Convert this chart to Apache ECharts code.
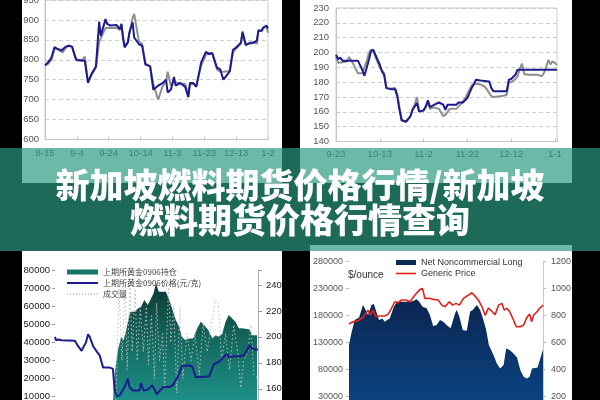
<!DOCTYPE html>
<html><head><meta charset="utf-8">
<script src="https://cdn.jsdelivr.net/npm/echarts@6/dist/echarts.min.js"></script>
<style>html,body{margin:0;padding:0;background:#000;}#c{width:600px;height:400px;}</style>
</head><body><div id="c"></div>
<script>
// ---------- Chart 1 (top-left) ----------
const c1Labels = ['8-15','9-4','9-24','10-14','11-3','11-23','12-13','1-2'];
const c1Days = [0,2,4,6,10,11,13,15,17,19,20,23,25,27,29,32,33,34,35,38,39,41,45,47,48,49,50,52,53,55,56,59,61,63,66,68,71,74,76,77,79,81,82,85,88,90,91,93,95,98,101,103,105,108,110,112,116,118,120,123,124,126,129,131,133,134,136,137,139,140];
const c1Navy = [786,794,805,832,822,820,833,835,833,805,799,799,797,742,763,784,780,896,860,902,890,886,887,877,890,852,831,843,869,894,856,839,835,788,784,725,735,742,750,718,725,757,735,742,732,706,742,742,732,793,820,814,817,780,776,750,771,825,831,843,869,837,843,843,848,873,873,881,886,879];
const c1Gray = [786,790,800,828,826,818,830,836,832,810,800,797,808,745,760,780,782,845,850,880,885,880,880,875,888,860,835,845,865,905,915,845,840,792,782,740,700,735,745,770,735,745,745,740,740,712,738,740,735,785,812,818,815,775,770,770,772,818,828,840,872,840,840,845,840,875,872,878,885,868];

// ---------- Chart 2 (top-right) ----------
const c2Labels = ['9-23','10-13','11-2','11-22','12-12','1-1'];
const c2NavyDays = [0,1,2,3,6,10,12,13,14,15,16,17,18,20,21,22,23,25,27,28,29,30,32,34,35,37,38,40,41,42,43,45,47,49,50,51,55,56,58,60,62,64,66,70,71,72,75,78,79,80,82,83,101];
const c2Navy = [198.5,195.6,196.5,194.5,194.5,194.5,188.4,184.3,189.5,195,200.8,201.9,198.5,191.8,187.3,185,176,175.3,175.3,170.4,161.4,154.2,153.5,156.9,161.4,165.9,160.3,160.9,163.6,167.7,163.2,164.8,166.3,164.8,161.4,164.8,164.8,166.3,166.3,169.3,176,181.6,181.2,180.5,176,173.8,173.8,173.8,181.6,182.1,185,188.4,188.4];
const c2GrayDays = [0,1,3,5,6,8,10,12,14,15,16,17,18,20,22,23,25,27,28,29,30,32,34,35,36,37,38,40,41,42,43,45,47,49,50,52,55,57,59,60,62,64,66,68,69,71,72,75,77,78,79,80,82,83,84,85,86,88,90,92,94,95,96,97,98,99,100,101];
const c2Gray = [197,193,193.5,194,197,192,186,186,194,199.5,202,201,197,190,186,176,175.5,176,172,163,155,153,157,162,165,170,160,161,163,166,162,163,162,157,158,162,162,165,169,172,178,179,178.5,177,175,170.5,170,170.5,171,171.5,180,180,182,184,189,192.5,185.5,185,185,185,184,186,190,195,192,194,193,191.5];

// ---------- Chart 3 (bottom-left) ----------
const c3Names = ['上期所黄金0906持仓','上期所黄金0906价格(元/克)','成交量'];
const c3OiX = [28.2,28.9,29.4,31,32.6,33.8,35.1,37,39.2,40.8,42.4,44,45.7,47.3,48.5,49.8,51.1,53,54.6,56.3,57.9,59.5,61.2,62.5,64.1,66.1,68,70.1,71.8,73.4,75.5,77.5,79.1,80.7,82.4,84,85.6,87.3,88.9,90.5,92.2,95.8,97.1,99.5];
const c3Oi = [0,15000,23000,36000,43300,41500,47000,57200,57200,59000,60000,63700,61000,64600,67400,73000,68300,68300,68300,63700,58100,52600,48900,43300,41500,42400,42400,48000,51700,49800,47000,42400,44200,43300,45000,51700,55400,53500,51700,48000,48000,47400,44200,44200];
const c3PriceX = [0,0.5,1.6,3.3,9.8,11.4,13.1,14.2,15.2,16.3,17.1,18.8,20.7,22,23.7,26.9,28.5,29.4,30.5,31.8,34.3,35.9,36.7,38.3,41.6,42.4,43.6,45.7,47.8,48.9,50.1,51.4,53.3,56.3,57.9,60.4,62.5,66.1,67.7,69.3,72.6,75.9,78.3,80.7,83.2,84.8,85.6,88.1,90.5,93,94.6,95.8,97.1,98.7,100];
const c3Price = [200,197.4,198,197.4,197,192.8,189.2,192.8,195.4,202,200,192.8,188.4,185.8,176.3,176.3,175.5,158.7,154.1,154.9,161.3,167.8,161.3,158.7,158.7,164.4,158.7,159.2,162.6,160,155.6,158.2,161.3,161.3,162.6,169,177.3,178.1,176.8,169,169,169.6,178.9,180.7,184.5,187.1,184.5,185,185,185.8,189.7,193.6,191,190.2,190.2];
const c3VolX = [30,31.5,33,34.5,35.5,37,38,39.5,40.5,42,43.5,45,46,47.5,49,50,51.5,53,54,56,57,58.5,60,61.5,63,65,67,69,71,73,75,77,79,80.5,82,84,86,88,90,91.5,93,95,96.5,98,100];
const c3Vol = [8000,70000,30000,72000,25000,72000,35000,70000,30000,60000,35000,60000,28000,55000,20000,62000,30000,45000,15000,72000,40000,60000,12000,60000,20000,45000,30000,45000,22000,50000,35000,50000,64000,62000,30000,45000,25000,50000,35000,15000,30000,35000,50000,22000,20000];

// ---------- Chart 4 (bottom-right) ----------
const c4Names = ['Net Noncommercial Long','Generic Price'];
const c4LongX = [0,1.2,2.9,5.2,7.2,8.6,9.8,11.6,12.8,14.1,15.5,17.2,18.4,19.7,21,23.1,24.8,27.1,29.3,31.4,33.1,34.8,36.2,37.9,40,41.7,43.4,45.2,46.9,48.6,50.3,52.4,53.4,54.7,55.5,56.9,58.6,60.7,62.4,63.8,65.9,67.6,69.3,70.7,72.1,74.5,76.2,77.9,79.7,81,82.8,84.8,86.6,88.3,90,91.7,93.1,94.3,97.2,98.6,100];
const c4Long = [124900,146600,171400,176400,199400,190000,180700,199400,201200,187000,171400,174500,168300,171400,174500,196300,205600,205600,205600,205600,206800,210000,205600,196300,193200,180700,160300,162200,171400,168300,162200,156000,152800,183900,190000,177700,152800,151600,187000,190000,199400,190000,171400,152800,124900,106300,90800,81500,87700,118700,115600,109400,101900,78400,66000,62900,66000,81500,83400,100100,116900];
const c4PriceX = [0,2.1,4.7,7.2,9.8,11,12.4,13.8,15.9,18.4,20.2,21.9,23.6,25.3,27.1,29.3,31.4,34,36.6,37.9,39.1,41.7,43.4,46,47.8,49.5,51.7,53.4,55.2,56.9,59,61.6,63.3,65,66.7,68.4,70.2,71.9,73.6,75.3,77.1,78.8,80,81.4,82.8,84.8,86.2,88.3,90,91.7,93.1,94.1,95.2,96.9,98.3,100];
const c4Price = [736,753,761,785,840,803,840,791,796,796,810,853,902,895,915,915,902,952,994,1001,927,927,920,915,877,865,902,877,890,877,927,952,969,944,915,870,801,856,831,806,877,890,840,853,828,766,716,716,729,786,810,754,803,828,853,877];

const bannerLine1 = '新加坡燃料期货价格行情/新加坡';
const bannerLine2 = '燃料期货价格行情查询';

function pairs(xs, ys) { return xs.map((x, i) => [x, ys[i]]); }

// legend icon shapes (a plain stroke and a dotted stroke)
const solidIcon = 'path://M0,0H31V2H0Z';
let dotted = 'path://';
for (let i = 0; i < 31; i += 3) dotted += 'M' + i + ',0h1.2v1.2h-1.2z';
const dottedIcon = dotted;
const redIcon = 'path://M0,0H20V1.6H0Z';

const latin = '"Liberation Sans", Arial, sans-serif';
const cjk = '"Noto Sans CJK SC", sans-serif';

const chart = echarts.init(document.getElementById('c'));
const dashed = { show: true, lineStyle: { color: '#cdcdcd', type: [4, 3], width: 1 } };
const lbl = (o) => Object.assign({ fontSize: 9.5, color: '#555', fontFamily: latin }, o);

chart.setOption({
  animation: false,
  backgroundColor: '#000',
  grid: [
    { left: 45, top: 0, width: 223, height: 139.5, show: true, borderColor: '#cfcfcf', borderWidth: 1, outerBoundsMode: 'none', containLabel: false },
    { left: 336, top: 8, width: 221, height: 133.5, show: true, borderColor: '#cfcfcf', borderWidth: 1, outerBoundsMode: 'none', containLabel: false },
    { left: 55, top: 270.7, width: 203, height: 144, outerBoundsMode: 'none', containLabel: false },
    { left: 349, top: 261.7, width: 194, height: 161.3, outerBoundsMode: 'none', containLabel: false }
  ],
  legend: [
    { data: [{ name: c3Names[0], icon: 'rect' }, { name: c3Names[1], icon: solidIcon }, { name: c3Names[2], icon: dottedIcon }],
      orient: 'vertical', left: 67, top: 268, padding: 0, itemWidth: 31, itemHeight: 5, itemGap: 3,
      textStyle: { fontSize: 8, color: '#444', fontFamily: cjk } },
    { data: [{ name: c4Names[0], icon: 'rect' }, { name: c4Names[1], icon: redIcon }],
      orient: 'vertical', left: 396, top: 258, padding: 0, itemWidth: 20, itemHeight: 5, itemGap: 2,
      textStyle: { fontSize: 9, color: '#333', fontFamily: latin } }
  ],
  xAxis: [
    { gridIndex: 0, type: 'value', min: 0, max: 140, interval: 20,
      axisLine: { lineStyle: { color: '#c4c4c4' } }, axisTick: { inside: true, length: 3, lineStyle: { color: '#c4c4c4' } },
      splitLine: { show: false }, axisLabel: lbl({ margin: 9, formatter: v => c1Labels[v / 20] || '' }) },
    { gridIndex: 1, type: 'value', min: 0, max: 101, interval: 20,
      axisLine: { lineStyle: { color: '#c4c4c4' } }, axisTick: { inside: true, length: 3, lineStyle: { color: '#c4c4c4' } },
      splitLine: { show: false }, axisLabel: lbl({ margin: 8, formatter: v => (v % 20 === 0 ? (c2Labels[v / 20] || '') : '') }) },
    { gridIndex: 2, type: 'value', min: 0, max: 100, show: false },
    { gridIndex: 3, type: 'value', min: 0, max: 100, show: false }
  ],
  yAxis: [
    { gridIndex: 0, type: 'value', min: 600, max: 950, interval: 50,
      axisLine: { show: true, lineStyle: { color: '#c4c4c4' } }, axisTick: { show: false },
      splitLine: dashed, axisLabel: lbl({ margin: 6 }) },
    { gridIndex: 1, type: 'value', min: 140, max: 230, interval: 10,
      axisLine: { show: true, lineStyle: { color: '#c4c4c4' } }, axisTick: { show: false },
      splitLine: dashed, axisLabel: lbl({ margin: 7 }) },
    { gridIndex: 2, type: 'value', min: 0, max: 80000, interval: 10000,
      axisLine: { show: false }, axisTick: { show: true, length: 3, lineStyle: { color: '#999' } },
      splitLine: { show: false }, axisLabel: lbl({ margin: 5, color: '#222', formatter: v => String(v) }) },
    { gridIndex: 2, type: 'value', position: 'right', min: 140, max: 251, interval: 20,
      axisLine: { show: true, lineStyle: { color: '#b0b0b0' } }, axisTick: { show: true, length: 4, lineStyle: { color: '#999' } },
      splitLine: { show: false }, axisLabel: lbl({ margin: 8, color: '#222', formatter: v => (v % 20 === 0 ? String(v) : '') }) },
    { gridIndex: 3, type: 'value', min: -20000, max: 280000, interval: 50000,
      axisLine: { show: false }, axisTick: { show: true, length: 3, lineStyle: { color: '#bbb' } },
      splitLine: { show: false }, axisLabel: lbl({ margin: 6, fontSize: 9, formatter: v => String(v) }) },
    { gridIndex: 3, type: 'value', position: 'right', min: 0, max: 1200, interval: 200,
      axisLine: { show: true, lineStyle: { color: '#c8c8c8' } }, axisTick: { show: true, length: 3, lineStyle: { color: '#bbb' } },
      splitLine: { show: false }, axisLabel: lbl({ margin: 8, fontSize: 9, formatter: v => String(v) }) }
  ],
  series: [
    { type: 'line', xAxisIndex: 0, yAxisIndex: 0, data: pairs(c1Days, c1Gray), symbol: 'none',
      lineStyle: { color: '#8e8e8e', width: 2 }, itemStyle: { color: '#8e8e8e' }, z: 2 },
    { type: 'line', xAxisIndex: 0, yAxisIndex: 0, data: pairs(c1Days, c1Navy), symbol: 'none',
      lineStyle: { color: '#1c1c8e', width: 2 }, itemStyle: { color: '#1c1c8e' }, z: 3 },
    { type: 'line', xAxisIndex: 1, yAxisIndex: 1, data: pairs(c2GrayDays, c2Gray), symbol: 'none',
      lineStyle: { color: '#8e8e8e', width: 2 }, itemStyle: { color: '#8e8e8e' }, z: 2 },
    { type: 'line', xAxisIndex: 1, yAxisIndex: 1, data: pairs(c2NavyDays, c2Navy), symbol: 'none',
      lineStyle: { color: '#1c1c8e', width: 2 }, itemStyle: { color: '#1c1c8e' }, z: 3 },
    { name: c3Names[0], type: 'line', xAxisIndex: 2, yAxisIndex: 2, data: pairs(c3OiX, c3Oi), symbol: 'none',
      lineStyle: { width: 0, color: '#17766c' }, itemStyle: { color: '#17766c' },
      areaStyle: { opacity: 1, origin: 'start', color: new echarts.graphic.LinearGradient(0, 0, 0, 1, [
        { offset: 0, color: '#0e3832' }, { offset: 0.45, color: '#146a60' }, { offset: 1, color: '#1f9991' }]) }, z: 2 },
    { name: c3Names[2], type: 'line', xAxisIndex: 2, yAxisIndex: 2, data: pairs(c3VolX, c3Vol), symbol: 'none',
      lineStyle: { width: 1, color: '#bdbdbd', type: [1.5, 2.5] }, itemStyle: { color: '#9a9a9a' }, z: 3 },
    { name: c3Names[1], type: 'line', xAxisIndex: 2, yAxisIndex: 3, data: pairs(c3PriceX, c3Price), symbol: 'none',
      lineStyle: { width: 2, color: '#1c1c8e' }, itemStyle: { color: '#1c1c8e' }, z: 4 },
    { name: c4Names[0], type: 'line', xAxisIndex: 3, yAxisIndex: 4, data: pairs(c4LongX, c4Long), symbol: 'none',
      lineStyle: { width: 0, color: '#0b2a58' }, itemStyle: { color: '#0b2a58' },
      areaStyle: { opacity: 1, origin: 'start', color: new echarts.graphic.LinearGradient(0, 0, 0, 1, [
        { offset: 0, color: '#0b2550' }, { offset: 1, color: '#0b4a8c' }]) }, z: 2 },
    { name: c4Names[1], type: 'line', xAxisIndex: 3, yAxisIndex: 5, data: pairs(c4PriceX, c4Price), symbol: 'none',
      lineStyle: { width: 1.6, color: '#e3201b' }, itemStyle: { color: '#e3201b' }, z: 3 }
  ],
  graphic: [
    { type: 'rect', z: -10, silent: true, shape: { x: 22, y: 0, width: 260, height: 183 }, style: { fill: '#fff' } },
    { type: 'rect', z: -10, silent: true, shape: { x: 300, y: 0, width: 272, height: 183 }, style: { fill: '#fff' } },
    { type: 'rect', z: -10, silent: true, shape: { x: 22, y: 251, width: 260, height: 149 }, style: { fill: '#fff' } },
    { type: 'rect', z: -10, silent: true, shape: { x: 310, y: 245, width: 262, height: 155 }, style: { fill: '#fff' } },
    { type: 'text', z: 10, silent: true, x: 348, y: 275,
      style: { text: '$/ounce', fill: '#333', font: '10px ' + latin, textAlign: 'left', textVerticalAlign: 'middle', align: 'left', verticalAlign: 'middle' } },
    { type: 'rect', z: 100, silent: true, shape: { x: 0, y: 148, width: 600, height: 103 }, style: { fill: 'rgba(43,154,128,0.69)' } },
    { type: 'text', z: 101, silent: true, x: 300, y: 185,
      style: { text: bannerLine1, fill: '#fff', font: '900 34px ' + cjk, textAlign: 'center', textVerticalAlign: 'middle', align: 'center', verticalAlign: 'middle',
        shadowBlur: 4, shadowColor: 'rgba(0,0,0,0.6)', shadowOffsetX: 1, shadowOffsetY: 1 } },
    { type: 'text', z: 101, silent: true, x: 300, y: 220,
      style: { text: bannerLine2, fill: '#fff', font: '900 34px ' + cjk, textAlign: 'center', textVerticalAlign: 'middle', align: 'center', verticalAlign: 'middle',
        shadowBlur: 4, shadowColor: 'rgba(0,0,0,0.6)', shadowOffsetX: 1, shadowOffsetY: 1 } }
  ]
});
</script>
</body></html>
